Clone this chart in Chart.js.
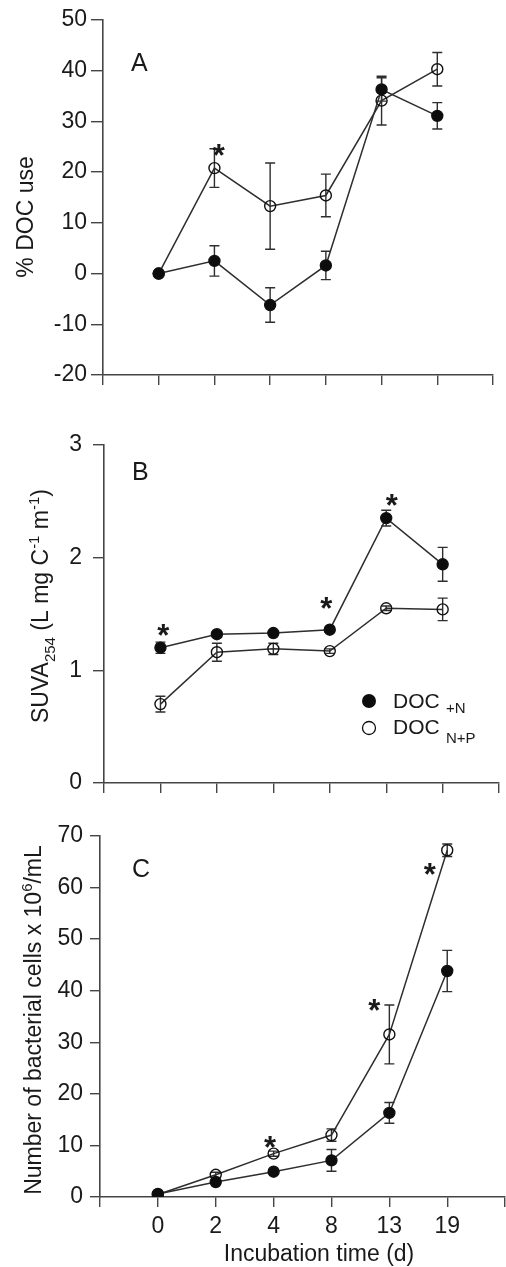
<!DOCTYPE html>
<html>
<head>
<meta charset="utf-8">
<script src="https://cdn.jsdelivr.net/npm/chart.js@4.4.1/dist/chart.umd.min.js"></script>
<style>
  html, body { margin: 0; padding: 0; background: #fff; }
  body { width: 506px; height: 1267px; position: relative; overflow: hidden; }
  canvas { position: absolute; left: 0; }
</style>
</head>
<body>
<canvas id="chartA" width="506" height="400" style="top:0px"></canvas>
<canvas id="chartB" width="506" height="390" style="top:420px"></canvas>
<canvas id="chartC" width="512" height="452" style="top:815px"></canvas>
<script>
// incubation days (categories)
const days = ['0', '2', '4', '8', '13', '19'];

// A: % DOC use
const docUseN = [0, 2.5, -6.2, 1.6, 36.3, 31.1];
const docUseNErr = [0, 3.0, 3.4, 2.8, 2.3, 2.6];
const docUseNP = [0, 20.8, 13.3, 15.4, 34.1, 40.3];
const docUseNPErr = [0, 3.8, 8.5, 4.2, 4.8, 3.3];

// B: SUVA254
const suvaN = [1.20, 1.32, 1.33, 1.36, 2.35, 1.94];
const suvaNErr = [0.05, 0.02, 0.02, 0.02, 0.07, 0.15];
const suvaNP = [0.70, 1.16, 1.19, 1.17, 1.55, 1.54];
const suvaNPErr = [0.07, 0.08, 0.05, 0.02, 0.02, 0.10];

// C: bacterial cells x 10^6/mL
const cellsN = [0.6, 2.9, 4.9, 7.1, 16.3, 43.8];
const cellsNErr = [0, 0.3, 0.3, 2.1, 2.0, 4.0];
const cellsNP = [0.5, 4.3, 8.4, 12.0, 31.5, 67.2];
const cellsNPErr = [0, 0.5, 0.5, 1.2, 5.7, 1.2];

// significance marks (x = category position, y = value)
const starsA = [{ x: 2.08, y: 24.6 }];
const starsB = [{ x: 1.05, y: 1.37 }, { x: 3.94, y: 1.61 }, { x: 5.1, y: 2.52 }];
const starsC = [{ x: 2.94, y: 11.0 }, { x: 4.74, y: 37.5 }, { x: 5.7, y: 63.8 }];

const FONT = '"Liberation Sans", Arial, Helvetica, sans-serif';
const INK = '#1a1a1a';
const AXIS = '#454545';
const LINE = '#2e2e2e';

function font(size, weight) { return (weight || '') + ' ' + size + 'px ' + FONT; }

function partSize(kind, size) { return kind === 'n' ? size : Math.round(size * 0.65); }

function richWidth(ctx, parts, size) {
  let w = 0;
  parts.forEach(([t, k]) => { ctx.font = font(partSize(k, size)); w += ctx.measureText(t).width; });
  return w;
}

// x = left, y = baseline
function drawRich(ctx, parts, x, y, size) {
  parts.forEach(([t, k]) => {
    ctx.font = font(partSize(k, size));
    const dy = k === 'sub' ? size * 0.28 : k === 'sup' ? -size * 0.38 : 0;
    ctx.fillText(t, x, y + dy);
    x += ctx.measureText(t).width;
  });
}

function series(values, errs, filled) {
  return {
    data: values.map((v, i) => ({ x: i + 1, y: v })),
    err: errs,
    borderColor: LINE,
    borderWidth: 1.5,
    pointRadius: 5.5,
    pointBorderWidth: 1.4,
    pointBackgroundColor: filled ? '#0d0d0d' : 'rgba(0,0,0,0)',
    pointBorderColor: '#111',
    fill: false,
    tension: 0
  };
}

function decor(cfg) {
  return {
    id: 'decor',
    beforeDatasetsDraw(chart) {
      const ctx = chart.ctx, xs = chart.scales.x, ys = chart.scales.y;
      ctx.save();
      ctx.strokeStyle = LINE;
      ctx.lineWidth = 1.4;
      chart.data.datasets.forEach(ds => {
        ds.data.forEach((p, i) => {
          const e = ds.err[i];
          if (!e) return;
          const px = xs.getPixelForValue(p.x);
          const top = ys.getPixelForValue(p.y + e);
          const bot = ys.getPixelForValue(p.y - e);
          ctx.beginPath();
          ctx.moveTo(px, top); ctx.lineTo(px, bot);
          ctx.moveTo(px - 5, top); ctx.lineTo(px + 5, top);
          ctx.moveTo(px - 5, bot); ctx.lineTo(px + 5, bot);
          ctx.stroke();
        });
      });
      ctx.restore();
    },
    afterDatasetsDraw(chart) {
      const ctx = chart.ctx, xs = chart.scales.x, ys = chart.scales.y;
      ctx.save();
      ctx.fillStyle = INK;
      ctx.textAlign = 'center';
      ctx.textBaseline = 'alphabetic';
      ctx.font = font(31, 'bold');
      cfg.stars.forEach(s => {
        ctx.fillText('*', xs.getPixelForValue(s.x), ys.getPixelForValue(s.y) + 31 * 0.56);
      });
      ctx.textAlign = 'left';
      // panel letter
      ctx.font = font(25);
      ctx.fillText(cfg.letter.text, cfg.letter.x, cfg.letter.y);
      // axis titles
      cfg.titles.forEach(t => {
        const w = richWidth(ctx, t.parts, t.size);
        ctx.save();
        ctx.translate(t.x, t.y);
        if (t.rotate) ctx.rotate(-Math.PI / 2);
        drawRich(ctx, t.parts, -w / 2, t.size * 0.358, t.size);
        ctx.restore();
      });
      // legend
      (cfg.legend || []).forEach(l => {
        ctx.beginPath();
        ctx.arc(l.mx, l.my, l.r, 0, Math.PI * 2);
        if (l.filled) { ctx.fillStyle = '#0d0d0d'; ctx.fill(); }
        else { ctx.strokeStyle = '#111'; ctx.lineWidth = 1.3; ctx.stroke(); }
        ctx.fillStyle = INK;
        ctx.font = font(21);
        ctx.fillText('DOC', l.tx, l.ty);
        ctx.font = font(15);
        ctx.fillText(l.sub, l.sx, l.sy);
      });
      ctx.restore();
    }
  };
}

function makeChart(id, cfg) {
  return new Chart(document.getElementById(id), {
    type: 'line',
    data: { datasets: [series(cfg.n, cfg.nErr, true), series(cfg.np, cfg.npErr, false)] },
    options: {
      responsive: false,
      animation: false,
      events: [],
      layout: { padding: { top: 20, right: cfg.padRight, left: 0, bottom: 0 } },
      plugins: { legend: { display: false }, tooltip: { enabled: false } },
      scales: {
        x: {
          type: 'linear', min: 0, max: 7,
          afterFit: s => { s.height = cfg.xHeight; },
          ticks: {
            stepSize: 1, autoSkip: false, maxRotation: 0,
            font: { family: FONT, size: 23 }, color: INK, padding: 6,
            callback: v => cfg.showDays ? (days[v - 1] || '') : ''
          },
          grid: { drawOnChartArea: false, tickLength: 10, color: AXIS, lineWidth: 1.4 },
          border: { color: AXIS, width: 1.6 }
        },
        y: {
          min: cfg.yMin, max: cfg.yMax,
          afterFit: s => { s.width = cfg.yWidth; },
          ticks: {
            stepSize: cfg.yStep, font: { family: FONT, size: 23 }, color: INK, padding: cfg.yPad
          },
          grid: { drawOnChartArea: false, tickLength: cfg.yTick, color: AXIS, lineWidth: 1.4 },
          border: { color: AXIS, width: 1.6 }
        }
      }
    },
    plugins: [decor(cfg)]
  });
}

makeChart('chartA', {
  n: docUseN, nErr: docUseNErr, np: docUseNP, npErr: docUseNPErr,
  yMin: -20, yMax: 50, yStep: 10, yWidth: 103, yTick: 12, yPad: 4,
  padRight: 13, xHeight: 25, showDays: false,
  stars: starsA,
  letter: { text: 'A', x: 131, y: 71 },
  titles: [{ parts: [['% DOC use', 'n']], x: 25, y: 217, size: 23, rotate: true }]
});

makeChart('chartB', {
  n: suvaN, nErr: suvaNErr, np: suvaNP, npErr: suvaNPErr,
  yMin: 0, yMax: 3, yStep: 1, yWidth: 104, yTick: 11, yPad: 11,
  padRight: 1, xHeight: 27, showDays: false,
  stars: starsB,
  letter: { text: 'B', x: 132, y: 60 },
  titles: [{
    parts: [['SUVA', 'n'], ['254', 'sub'], [' (L mg C', 'n'], ['-1', 'sup'], [' m', 'n'], ['-1', 'sup'], [')', 'n']],
    x: 40, y: 186, size: 23, rotate: true
  }],
  legend: [
    { filled: true, mx: 369, my: 281, r: 7, tx: 393, ty: 288, sub: '+N', sx: 446, sy: 293 },
    { filled: false, mx: 369, my: 308, r: 6.5, tx: 393, ty: 314, sub: 'N+P', sx: 446, sy: 323 }
  ]
});

makeChart('chartC', {
  n: cellsN, nErr: cellsNErr, np: cellsNP, npErr: cellsNPErr,
  yMin: 0, yMax: 70, yStep: 10, yWidth: 100, yTick: 10, yPad: 7,
  padRight: 2, xHeight: 70, showDays: true,
  stars: starsC,
  letter: { text: 'C', x: 132, y: 62 },
  titles: [
    { parts: [['Number of bacterial cells x 10', 'n'], ['6', 'sup'], ['/mL', 'n']], x: 33, y: 205, size: 23, rotate: true },
    { parts: [['Incubation time (d)', 'n']], x: 319, y: 438, size: 23, rotate: false }
  ]
});
</script>
</body>
</html>
